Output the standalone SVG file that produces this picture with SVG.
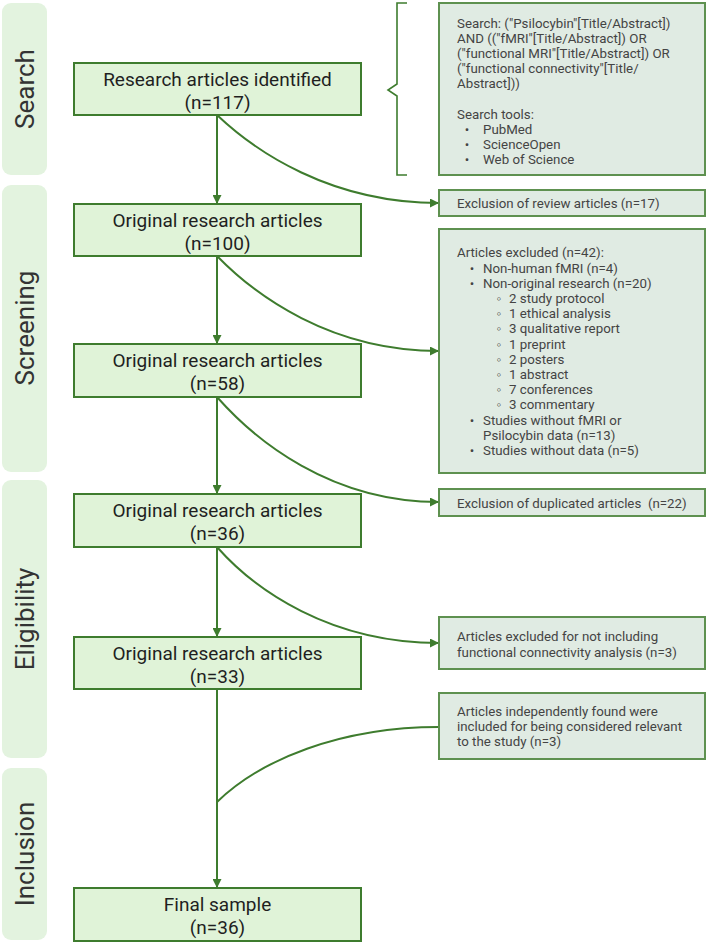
<svg xmlns="http://www.w3.org/2000/svg" width="708" height="944" viewBox="0 0 708 944">
<defs>
<style>
.panel{fill:#e3f3df;}
.ptxt{font-family:Roboto,"Liberation Sans",sans-serif;font-size:26px;fill:#333;text-anchor:middle;}
.main{fill:#e0f3d8;stroke:#3e7c2e;stroke-width:2;}
.mtxt{font-family:Roboto,"Liberation Sans",sans-serif;font-size:19px;fill:#1f1f1f;text-anchor:middle;}
.side{fill:#e0ebe3;stroke:#5e9150;stroke-width:2;}
.stxt{font-family:Roboto,"Liberation Sans",sans-serif;font-size:13.3px;fill:#444;}
.con{fill:none;stroke:#3e7c2e;stroke-width:2;}
</style>
<marker id="ah" viewBox="0 0 10 10" refX="10" refY="5" markerWidth="4.5" markerHeight="4.5" orient="auto" markerUnits="strokeWidth">
<path d="M0,0 L10,5 L0,10 Z" fill="#3e7c2e"/>
</marker>
</defs>
<rect width="708" height="944" fill="#ffffff"/>

<g id="panel-search"><rect class="panel" x="2" y="3" width="45" height="172" rx="9"/><text class="ptxt" transform="translate(34,89) rotate(-90)">Search</text></g>
<g id="panel-screening"><rect class="panel" x="2" y="185" width="45" height="287" rx="9"/><text class="ptxt" transform="translate(34,328) rotate(-90)">Screening</text></g>
<g id="panel-eligibility"><rect class="panel" x="2" y="480" width="45" height="278" rx="9"/><text class="ptxt" transform="translate(34,619) rotate(-90)">Eligibility</text></g>
<g id="panel-inclusion"><rect class="panel" x="2" y="768" width="45" height="172" rx="9"/><text class="ptxt" transform="translate(34,854) rotate(-90)">Inclusion</text></g>

<g id="connectors">
<path class="con" d="M217,115 V204" marker-end="url(#ah)"/>
<path class="con" d="M217,256 V344" marker-end="url(#ah)"/>
<path class="con" d="M217,397 V494" marker-end="url(#ah)"/>
<path class="con" d="M217,547 V637" marker-end="url(#ah)"/>
<path class="con" d="M217,689 V888" marker-end="url(#ah)"/>
<path class="con" d="M217,115 C255,151 330,203 439,203" marker-end="url(#ah)"/>
<path class="con" d="M217,256 C255,295 330,351 439,351" marker-end="url(#ah)"/>
<path class="con" d="M217,397 C255,440 330,502 439,502" marker-end="url(#ah)"/>
<path class="con" d="M217,547 C255,590 330,643 439,643" marker-end="url(#ah)"/>
<path class="con" d="M439,727 C340,727 260,760 217,802"/>
<path id="brace" class="con" d="M407,3 H397 V84 L388,90 L397,96 V175 H407" style="stroke-width:1.6"/>
</g>

<g id="n117"><rect class="main" x="74" y="63" width="287" height="52"/><text class="mtxt" x="217.5" y="85.5">Research articles identified</text><text class="mtxt" x="217.5" y="108.5">(n=117)</text></g>
<g id="n100"><rect class="main" x="74" y="204" width="287" height="52"/><text class="mtxt" x="217.5" y="226.5">Original research articles</text><text class="mtxt" x="217.5" y="249.5">(n=100)</text></g>
<g id="n58"><rect class="main" x="74" y="344" width="287" height="53"/><text class="mtxt" x="217.5" y="366.5">Original research articles</text><text class="mtxt" x="217.5" y="389.5">(n=58)</text></g>
<g id="n36"><rect class="main" x="74" y="494" width="287" height="53"/><text class="mtxt" x="217.5" y="516.5">Original research articles</text><text class="mtxt" x="217.5" y="539.5">(n=36)</text></g>
<g id="n33"><rect class="main" x="74" y="637" width="287" height="52"/><text class="mtxt" x="217.5" y="659.5">Original research articles</text><text class="mtxt" x="217.5" y="682.5">(n=33)</text></g>
<g id="final"><rect class="main" x="74" y="888" width="287" height="53"/><text class="mtxt" x="217.5" y="910.5">Final sample</text><text class="mtxt" x="217.5" y="933.5">(n=36)</text></g>

<g id="search-box"><rect class="side" x="439" y="3" width="266" height="172"/>
<text class="stxt" x="457" y="28">Search: ("Psilocybin"[Title/Abstract])</text>
<text class="stxt" x="457" y="43">AND (("fMRI"[Title/Abstract]) OR</text>
<text class="stxt" x="457" y="58">("functional MRI"[Title/Abstract]) OR</text>
<text class="stxt" x="457" y="73">("functional connectivity"[Title/</text>
<text class="stxt" x="457" y="88">Abstract]))</text>
<text class="stxt" x="457" y="118.5">Search tools:</text>
<text class="stxt" x="467" y="133.5" text-anchor="middle">•</text><text class="stxt" x="483" y="133.5">PubMed</text>
<text class="stxt" x="467" y="148.7" text-anchor="middle">•</text><text class="stxt" x="483" y="148.7">ScienceOpen</text>
<text class="stxt" x="467" y="164" text-anchor="middle">•</text><text class="stxt" x="483" y="164">Web of Science</text>
</g>

<g id="excl-review"><rect class="side" x="439" y="190" width="266" height="26"/><text class="stxt" x="457" y="207.7">Exclusion of review articles (n=17)</text></g>

<g id="excl-42"><rect class="side" x="439" y="229" width="266" height="244"/>
<text class="stxt" x="457" y="257.4">Articles excluded (n=42):</text>
<text class="stxt" x="472" y="272.6" text-anchor="middle">•</text><text class="stxt" x="483" y="272.6">Non-human fMRI (n=4)</text>
<text class="stxt" x="472" y="287.8" text-anchor="middle">•</text><text class="stxt" x="483" y="287.8">Non-original research (n=20)</text>
<text class="stxt" x="499" y="303" text-anchor="middle">◦</text><text class="stxt" x="509" y="303">2 study protocol</text>
<text class="stxt" x="499" y="318.2" text-anchor="middle">◦</text><text class="stxt" x="509" y="318.2">1 ethical analysis</text>
<text class="stxt" x="499" y="333.4" text-anchor="middle">◦</text><text class="stxt" x="509" y="333.4">3 qualitative report</text>
<text class="stxt" x="499" y="348.6" text-anchor="middle">◦</text><text class="stxt" x="509" y="348.6">1 preprint</text>
<text class="stxt" x="499" y="363.8" text-anchor="middle">◦</text><text class="stxt" x="509" y="363.8">2 posters</text>
<text class="stxt" x="499" y="379" text-anchor="middle">◦</text><text class="stxt" x="509" y="379">1 abstract</text>
<text class="stxt" x="499" y="394.2" text-anchor="middle">◦</text><text class="stxt" x="509" y="394.2">7 conferences</text>
<text class="stxt" x="499" y="409.4" text-anchor="middle">◦</text><text class="stxt" x="509" y="409.4">3 commentary</text>
<text class="stxt" x="472" y="424.6" text-anchor="middle">•</text><text class="stxt" x="483" y="424.6">Studies without fMRI or</text>
<text class="stxt" x="483" y="439.8">Psilocybin data (n=13)</text>
<text class="stxt" x="472" y="455" text-anchor="middle">•</text><text class="stxt" x="483" y="455">Studies without data (n=5)</text>
</g>

<g id="excl-dup"><rect class="side" x="439" y="489" width="266" height="27"/><text class="stxt" x="457" y="507.7" xml:space="preserve">Exclusion of duplicated articles  (n=22)</text></g>

<g id="excl-fc"><rect class="side" x="439" y="617" width="266" height="52"/>
<text class="stxt" x="457" y="640.7">Articles excluded for not including</text>
<text class="stxt" x="457" y="656.5">functional connectivity analysis (n=3)</text>
</g>

<g id="incl-indep"><rect class="side" x="439" y="693" width="266" height="66"/>
<text class="stxt" x="457" y="715.7">Articles independently found were</text>
<text class="stxt" x="457" y="731.3">included for being considered relevant</text>
<text class="stxt" x="457" y="746.4">to the study (n=3)</text>
</g>
</svg>
